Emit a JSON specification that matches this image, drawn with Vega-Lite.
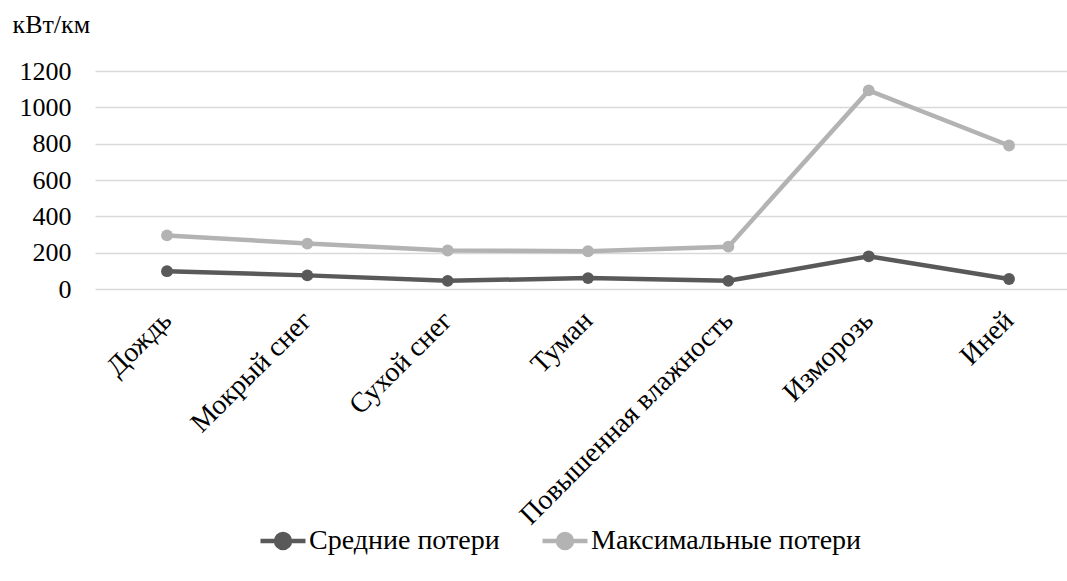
{
  "$schema": "https://vega.github.io/schema/vega-lite/v6.json",
  "autosize": "none",
  "width": 972,
  "height": 218,
  "padding": {"left": 95, "top": 71, "right": 0, "bottom": 292},
  "background": "white",
  "config": {
    "view": {"stroke": null},
    "font": "Liberation Serif",
    "axis": {"labelFont": "Liberation Serif", "titleFont": "Liberation Serif", "labelColor": "black", "titleColor": "black"},
    "legend": {"labelFont": "Liberation Serif"}
  },
  "data": {
    "values": [
      {"cat": "Дождь", "series": "Средние потери", "value": 98},
      {"cat": "Мокрый снег", "series": "Средние потери", "value": 75},
      {"cat": "Сухой снег", "series": "Средние потери", "value": 45},
      {"cat": "Туман", "series": "Средние потери", "value": 60},
      {"cat": "Повышенная влажность", "series": "Средние потери", "value": 45},
      {"cat": "Изморозь", "series": "Средние потери", "value": 180},
      {"cat": "Иней", "series": "Средние потери", "value": 55},
      {"cat": "Дождь", "series": "Максимальные потери", "value": 295},
      {"cat": "Мокрый снег", "series": "Максимальные потери", "value": 250},
      {"cat": "Сухой снег", "series": "Максимальные потери", "value": 212},
      {"cat": "Туман", "series": "Максимальные потери", "value": 208},
      {"cat": "Повышенная влажность", "series": "Максимальные потери", "value": 233},
      {"cat": "Изморозь", "series": "Максимальные потери", "value": 1093},
      {"cat": "Иней", "series": "Максимальные потери", "value": 790}
    ]
  },
  "encoding": {
    "x": {
      "field": "cat",
      "type": "nominal",
      "sort": null,
      "scale": {"type": "point", "padding": 0.463, "align": 0.554},
      "axis": {
        "title": null,
        "domain": false,
        "ticks": false,
        "grid": false,
        "labelAngle": -45,
        "labelAlign": "right",
        "labelBaseline": "middle",
        "labelFontSize": 28,
        "labelPadding": 27,
        "labelOverlap": false,
        "labelLimit": 400
      }
    },
    "y": {
      "field": "value",
      "type": "quantitative",
      "scale": {"domain": [0, 1200], "nice": false},
      "axis": {
        "values": [0, 200, 400, 600, 800, 1000, 1200],
        "format": "d",
        "domain": false,
        "ticks": false,
        "gridColor": "#d9d9d9",
        "gridWidth": 1.5,
        "labelFontSize": 26,
        "labelPadding": 24,
        "labelBaseline": "middle",
        "title": "кВт/км",
        "titleAngle": 0,
        "titleFontSize": 26,
        "titleFontWeight": "normal",
        "titleAlign": "left",
        "titleBaseline": "middle",
        "titleX": -83,
        "titleY": -47
      }
    },
    "color": {
      "field": "series",
      "type": "nominal",
      "sort": ["Средние потери", "Максимальные потери"],
      "scale": {"domain": ["Средние потери", "Максимальные потери"], "range": ["#595959", "#b3b3b3"]},
      "legend": {
        "title": null,
        "orient": "none",
        "direction": "horizontal",
        "legendX": 163,
        "legendY": 445,
        "labelFontSize": 28,
        "labelColor": "black",
        "labelLimit": 500,
        "symbolType": "M-1,0L1,0M-0.31,0A0.31,0.31,0,1,1,0.31,0A0.31,0.31,0,1,1,-0.31,0Z",
        "symbolSize": 2025,
        "symbolStrokeWidth": 4.5,
        "symbolOpacity": 1,
        "columnPadding": 33,
        "labelOffset": 1
      }
    }
  },
  "layer": [
    {"mark": {"type": "line", "strokeWidth": 4.5}},
    {"mark": {"type": "point", "filled": true, "size": 140, "opacity": 1}}
  ]
}
